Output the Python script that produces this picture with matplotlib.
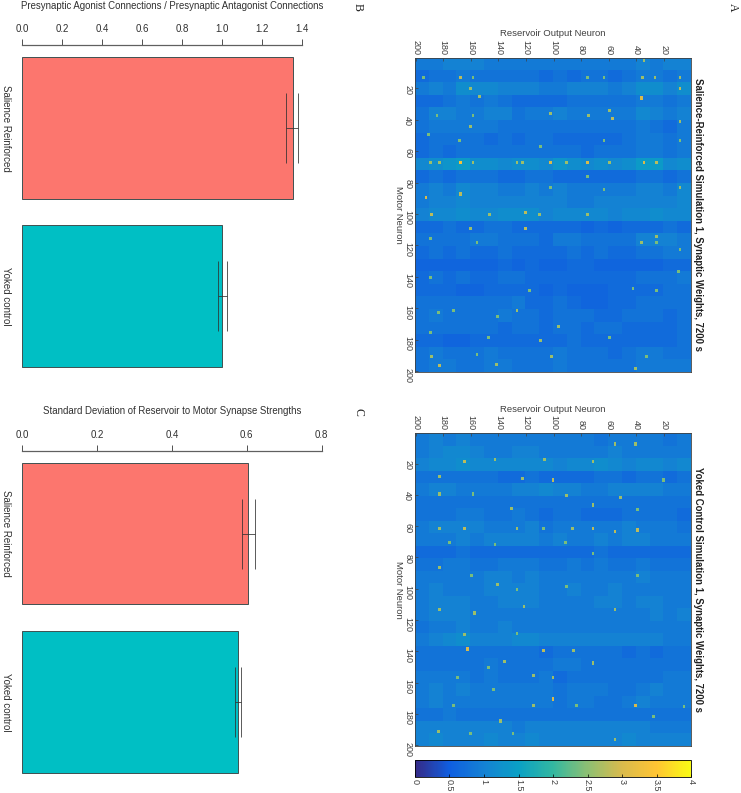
from matplotlib import pyplot as plt
from matplotlib.colors import LinearSegmentedColormap
import numpy as np

plt.rcParams['font.family'] = ['Liberation Sans', 'DejaVu Sans']

# hand: mean weight per block of 8 motor neurons (rows)
# by 10 reservoir neurons (columns, left to right = neuron 200 down to 1)
salience_blocks = [
    [.9,.9,1.0,1.0,1.0,.9,.9,.9,.9,.9,.9,.9,.9,.9,.9,.9,1.0,.9,1.0,1.0],
    [.7,.8,.8,.9,.8,.8,.8,.8,.8,.7,.8,.7,.8,.8,.7,.8,.9,.9,.8,.9],
    [.9,1.0,.9,1.2,1.1,1.1,1.0,1.0,1.0,.9,.9,1.0,1.0,1.0,.9,1.0,1.2,1.2,1.0,1.2],
    [.7,.7,.8,.9,.8,.9,.8,.7,.7,.7,.7,.8,.8,.8,.8,.8,.9,.9,.8,.9],
    [.8,1.0,1.0,.9,.9,1.0,1.0,.8,.9,.9,1.0,.9,.9,.9,.9,.9,1.1,1.0,.9,1.0],
    [.8,.9,.9,.9,.9,.9,.8,.8,.8,.8,.8,.8,.8,.8,.8,.8,.9,.8,.7,.9],
    [.7,.8,.8,.8,.8,.7,.8,.7,.8,.8,.7,.7,.7,.7,.7,.8,.9,.9,.8,.9],
    [.7,.8,.7,.8,.8,.8,.8,.8,.8,.8,.8,.8,.7,.8,.8,.8,.9,.9,.8,.9],
    [1.1,1.2,1.3,1.4,1.2,1.2,1.1,1.2,1.2,1.1,1.3,1.2,1.1,1.2,1.1,1.2,1.4,1.4,1.1,1.2],
    [.7,.8,.7,.8,.8,.8,.7,.7,.8,.8,.7,.7,.7,.7,.7,.7,.8,.8,.7,.8],
    [.9,1.0,.9,1.1,1.0,1.0,.9,.9,1.0,.9,1.0,.9,.9,.9,.9,.9,1.0,1.0,.9,1.1],
    [.9,1.0,1.0,1.1,1.0,1.0,1.0,1.0,1.0,1.0,1.0,.9,.9,1.0,1.0,1.0,1.0,1.0,1.0,1.1],
    [1.0,1.1,1.1,1.2,1.1,1.1,1.2,1.2,1.2,1.0,1.1,1.1,1.1,1.1,1.0,1.1,1.1,1.2,1.1,1.1],
    [.7,.7,.8,.7,.7,.8,.8,.7,.7,.7,.7,.7,.6,.7,.6,.7,.7,.7,.8,.7],
    [.8,.8,.8,.8,.9,.9,.8,.8,.8,.7,.9,.9,.8,.8,.8,.8,1.0,1.0,1.0,.9],
    [.7,.8,.7,.8,.7,.7,.8,.7,.7,.7,.7,.8,.7,.8,.7,.7,.8,.8,.9,.9],
    [.6,.6,.6,.6,.6,.6,.7,.6,.7,.6,.6,.7,.7,.6,.6,.6,.6,.6,.7,.7],
    [.7,.8,.7,.8,.7,.7,.8,.8,.7,.7,.7,.7,.7,.7,.7,.7,.8,.8,.8,.9],
    [.7,.7,.7,.6,.6,.7,.7,.7,.7,.6,.7,.6,.6,.6,.7,.7,.7,.7,.8,.8],
    [.8,.8,.8,.8,.8,.8,.8,.9,.7,.7,.8,.7,.6,.6,.7,.7,.8,.8,.8,.8],
    [.8,.9,.8,.8,.8,.8,.9,.8,.8,.7,.8,.8,.8,.7,.7,.8,.8,.8,.7,.8],
    [.8,.8,.8,.8,.8,.8,.7,.8,.8,.7,.8,.8,.7,.8,.8,.7,.7,.7,.7,.8],
    [.7,.7,.6,.6,.7,.7,.7,.7,.7,.7,.7,.8,.7,.7,.7,.7,.7,.7,.7,.8],
    [.8,.9,.8,.8,.8,.9,.8,.8,.8,.8,.9,.8,.8,.8,.7,.8,.9,.9,.8,.8],
    [.8,.9,.9,.8,.8,.9,.9,.8,.8,.8,.9,.8,.8,.8,.8,.8,.9,.9,.9,.9],
]
yoked_blocks = [
    [.9,1.0,.9,1.0,.9,.9,.9,.9,.9,.9,.9,.9,.9,.8,.9,.9,.9,.9,.8,.9],
    [.9,1.0,1.1,1.1,1.0,.9,.9,1.0,1.0,.9,.9,.9,.9,.9,1.0,.9,.9,.9,.9,.9],
    [1.0,1.1,1.1,1.2,1.1,1.1,1.1,1.1,1.1,1.1,1.0,1.1,1.1,1.2,1.1,1.0,1.1,1.1,1.0,1.1],
    [.8,.8,.8,.8,.8,.8,.7,.7,.8,.7,.7,.7,.7,.8,.8,.7,.8,.8,.7,.8],
    [.9,1.0,1.0,.9,.9,.9,.9,1.0,1.0,1.1,1.0,1.0,.9,.9,1.0,1.0,1.0,1.0,.9,.9],
    [.8,.8,.8,.8,.8,.8,.8,.8,.8,.8,.8,.8,.8,.8,.8,.8,.8,.8,.8,.8],
    [.8,.8,.8,.9,.9,.8,.8,.9,.8,.7,.8,.8,.7,.7,.7,.8,.8,.8,.8,.7],
    [.9,1.0,1.0,1.0,1.0,.9,.9,.9,1.0,.8,.9,.9,.9,.9,.9,1.0,.9,.9,.9,.8],
    [.9,.9,.9,1.0,.9,1.0,1.0,1.0,1.0,.9,1.0,.9,.9,1.0,.9,1.0,1.0,.9,.9,.9],
    [.7,.7,.7,.8,.7,.7,.7,.7,.7,.7,.7,.7,.7,.8,.7,.7,.7,.7,.7,.7],
    [.8,.8,.9,.9,.8,.8,.9,.9,.9,.8,.8,.9,.8,.9,.8,.8,.9,.8,.8,.8],
    [.9,.9,.9,.9,.9,1.0,1.0,.9,1.0,.9,.9,.9,.9,.9,.9,.9,1.0,.9,.9,.9],
    [.9,1.0,.9,.9,.9,1.0,1.0,1.0,1.0,.9,.9,1.0,.9,.9,1.0,.9,.9,.9,.9,.9],
    [.9,1.0,1.0,1.0,.9,.9,1.0,1.0,1.0,.9,.9,.9,.9,1.0,1.0,.9,1.0,1.0,.9,.9],
    [.9,1.0,1.0,1.0,.9,.9,.9,.9,.9,.9,.9,.9,.9,.9,.9,.9,.9,1.0,.9,1.0],
    [.8,.9,.9,1.0,.9,.9,1.0,.9,.9,.9,.9,.9,.9,.9,.9,.9,.9,.9,.9,.9],
    [.9,1.0,1.1,1.2,1.0,1.0,1.0,1.1,1.1,1.0,1.0,1.0,1.0,1.0,1.0,1.0,1.0,1.0,.9,.9],
    [.8,.8,.8,.8,.8,.8,.8,.8,.8,.7,.8,.8,.8,.8,.8,.7,.8,.7,.8,.8],
    [.8,.8,.8,.8,.8,.9,.8,.8,.8,.8,.9,.9,.8,.8,.8,.8,.8,.8,.8,.8],
    [.9,.9,.9,.9,.8,.9,.8,.8,.8,.9,.7,.8,.8,.8,.8,.8,.8,.8,.9,.9],
    [.9,1.0,.9,1.0,.9,.9,.9,.9,.9,.9,.8,.9,.9,.9,.8,.8,.9,1.0,.9,.9],
    [.9,1.0,.9,.9,.9,.9,.9,.9,.9,.9,.8,.9,.9,.8,.8,.9,1.0,.9,.9,.9],
    [.8,.8,.9,.8,.8,.8,.8,.8,.8,.8,.8,.8,.8,.8,.8,.8,.8,.8,.8,.8],
    [1.0,1.0,1.0,1.0,1.0,1.0,1.0,.9,1.0,1.0,1.0,1.0,1.0,1.0,1.0,1.0,1.0,.9,.9,.9],
    [1.0,1.1,1.0,1.0,1.0,1.1,1.0,1.0,1.1,1.0,1.0,1.0,1.0,1.0,1.0,1.1,1.0,1.0,1.0,1.0],
]
# bright synapses that can be picked out: (motor, reservoir, weight)
salience_spots = [
    (67,167,3.4),(26,36,3.0),(67,34,3.0),(67,25,2.8),(67,75,3.0),(67,102,3.0),(25,153,2.6),
    (20,8,2.8),(13,167,2.8),(89,192,3.0),(41,8,2.6),(39,57,2.8),(37,74,2.6),(20,160,2.6),
    (2,34,2.6),(13,35,2.6),(36,102,2.6),(44,160,2.6),(67,189,2.6),(67,182,2.6),(67,158,2.6),
    (67,126,2.6),(67,122,2.6),(67,90,2.6),(67,59,2.6),(13,194,2.4),(13,158,2.4),(13,63,2.4),
    (13,26,2.6),(13,8,2.6),(13,75,2.4),(37,184,2.4),(37,158,2.4),(34,59,2.6),(53,168,2.4),
    (57,109,2.4),(53,8,2.4),(53,63,2.4),(49,190,2.4),(76,75,2.4),(87,167,2.8),(83,8,2.6),
    (83,102,2.4),(84,63,2.4),(100,188,2.8),(100,146,2.6),(99,120,2.8),(100,110,2.6),
    (100,75,2.6),(109,160,2.6),(109,120,2.8),(115,189,2.4),(118,155,2.4),(114,25,2.6),
    (118,25,2.4),(118,36,2.6),(122,8,2.4),(140,189,2.4),(136,9,2.4),(148,25,2.4),(147,42,2.4),
    (148,117,2.4),(161,172,2.4),(162,183,2.4),(161,126,2.6),(165,140,2.4),(171,96,2.6),
    (175,189,2.4),(178,147,2.4),(180,109,2.6),(178,59,2.4),(190,101,2.6),(190,188,2.6),
    (189,155,2.4),(195,141,2.6),(196,182,2.8),(190,32,2.4),(198,40,2.6),
]
yoked_spots = [
    (18,164,2.8),(17,142,2.6),(17,106,2.6),(18,71,2.6),(28,182,2.6),(30,100,2.8),(29,122,2.6),
    (30,20,2.4),(39,182,2.6),(40,90,2.6),(41,51,2.6),(39,158,2.4),(46,71,2.6),(48,130,2.6),
    (49,39,2.4),(61,164,2.8),(61,182,2.6),(61,126,2.6),(61,86,2.6),(61,71,2.8),(63,55,2.8),
    (62,39,2.8),(61,107,2.4),(70,175,2.4),(70,91,2.4),(71,142,2.4),(77,71,2.4),(86,182,2.6),
    (91,159,2.4),(97,140,2.6),(100,126,2.4),(98,90,2.4),(91,39,2.4),(113,182,2.6),(115,157,2.6),
    (111,121,2.6),(113,55,2.6),(129,164,2.6),(128,126,2.4),(138,162,3.0),(139,107,2.8),
    (139,85,2.6),(146,135,2.6),(150,147,2.4),(147,71,2.6),(155,114,2.6),(156,100,2.6),
    (156,169,2.4),(164,143,2.4),(174,114,2.6),(170,100,3.0),(174,40,3.0),(174,172,2.4),
    (184,138,2.6),(191,183,2.6),(192,160,2.4),(192,129,2.4),(196,55,2.6),(181,27,2.4),
    (175,5,2.4),(174,83,2.4),(7,40,2.6),(7,55,2.6),
]

heat_titles = ['Salience-Reinforced Simulation 1, Synaptic Weights, 7200 s',
               'Yoked Control Simulation 1, Synaptic Weights, 7200 s']
groups = ['Salience Reinforced', 'Yoked control']
ratio_means = [1.355, 1.002]
ratio_low = [1.323, 0.982]
ratio_high = [1.383, 1.024]
spread_means = [0.604, 0.577]
spread_low = [0.588, 0.569]
spread_high = [0.621, 0.584]
ratio_ticks = [0.0, 0.2, 0.4, 0.6, 0.8, 1.0, 1.2, 1.4]
spread_ticks = [0.0, 0.2, 0.4, 0.6, 0.8]
neuron_ticks = list(range(20, 201, 20))
cbar_ticks = [0, 0.5, 1, 1.5, 2, 2.5, 3, 3.5, 4]
cbar_labels = ['0', '0.5', '1', '1.5', '2', '2.5', '3', '3.5', '4']

parula = LinearSegmentedColormap.from_list('parula', [
    (0.208, 0.166, 0.529), (0.06, 0.37, 0.88), (0.08, 0.51, 0.83), (0.04, 0.63, 0.77),
    (0.2, 0.72, 0.63), (0.55, 0.75, 0.45), (0.85, 0.73, 0.3), (1.0, 0.77, 0.2), (0.976, 0.984, 0.08)])

W, H = 741, 793
fig = plt.figure(figsize=(W / 100, H / 100), dpi=100)


def px_axes(x0, y0, x1, y1):
    # pixel box, y measured from the top of the picture
    return fig.add_axes([x0 / W, 1 - y1 / H, (x1 - x0) / W, (y1 - y0) / H])


def fill_weights(blocks, spots):
    w = np.kron(np.array(blocks), np.ones((8, 10)))
    for motor, res, val in spots:
        w[motor - 1:motor + 1, 199 - res:201 - res] = val
    return w


def heatmap(box, blocks, spots, title):
    ax = px_axes(*box)
    im = ax.imshow(fill_weights(blocks, spots), cmap=parula, vmin=0, vmax=4, aspect='auto',
                   interpolation='nearest', extent=(200.5, 0.5, 200.5, 0.5))
    ax.xaxis.tick_top()
    ax.set_xticks(neuron_ticks)
    ax.set_yticks(neuron_ticks)
    ax.tick_params(direction='in', length=2, width=0.5, labelsize=6.5, colors='#404040', pad=2)
    ax.tick_params(axis='x', labelrotation=270)
    ax.tick_params(axis='y', labelrotation=270)
    for s in ax.spines.values():
        s.set_linewidth(0.6)
        s.set_color('#404040')
    ax.text(0.5, 1.075, 'Reservoir Output Neuron', transform=ax.transAxes, ha='center', va='center',
            fontsize=6.8, color='#404040')
    ax.text(-0.058, 0.5, 'Motor Neuron', transform=ax.transAxes, ha='center', va='center',
            rotation=270, fontsize=6.8, color='#404040')
    ax.text(1.025, 0.5, title, transform=ax.transAxes, ha='center', va='center', rotation=270,
            fontsize=6.95, fontweight='bold', color='#202020')
    return im


def bar_panel(box, ticks, means, low, high, title, title_y):
    ax = px_axes(*box)
    y = [0, 1]
    ax.barh(y, means, height=0.84, color=['#FC766E', '#00BFC4'], edgecolor='#405050', linewidth=0.7)
    ax.errorbar(means, y, xerr=[np.array(means) - low, np.array(high) - means], fmt='none',
                ecolor='#303030', elinewidth=0.7, capsize=25, capthick=0.7, alpha=0.8)
    ax.set_xlim(ticks[0], ticks[-1])
    ax.set_ylim(1.5, -0.494)
    ax.xaxis.tick_top()
    ax.set_xticks(ticks)
    ax.set_xticklabels([f'{t:.1f}' for t in ticks])
    ax.set_yticks(y)
    ax.set_yticklabels(groups, rotation=270, va='center', ha='center')
    ax.tick_params(axis='x', length=4, width=0.7, labelsize=7, color='#505050', labelcolor='#303030', pad=4)
    ax.tick_params(axis='y', length=0, labelsize=7, labelcolor='#303030', pad=12)
    for s in ['left', 'right', 'bottom']:
        ax.spines[s].set_visible(False)
    ax.spines['top'].set_color('#606060')
    ax.spines['top'].set_linewidth(0.9)
    fig.text(172 / W, 1 - title_y / H, title, ha='center', va='center', fontsize=6.95, color='#303030')


heatmap((415, 57.5, 691, 372), salience_blocks, salience_spots, heat_titles[0])
im = heatmap((415, 433, 691, 746), yoked_blocks, yoked_spots, heat_titles[1])

cax = px_axes(415, 760, 691, 776.5)
cb = fig.colorbar(im, cax=cax, orientation='horizontal')
cb.set_ticks(cbar_ticks)
cb.set_ticklabels(cbar_labels)
cax.tick_params(direction='in', length=2, width=0.5, labelsize=6.5, labelrotation=270, labelcolor='#404040', pad=2)
cb.outline.set_linewidth(0.6)

bar_panel((22.3, 45, 301.7, 380), ratio_ticks, ratio_means, ratio_low, ratio_high,
          'Presynaptic Agonist Connections / Presynaptic Antagonist Connections', 5.7)
bar_panel((22.3, 450.7, 321.7, 786), spread_ticks, spread_means, spread_low, spread_high,
          'Standard Deviation of Reservoir to Motor Synapse Strengths', 410.7)

for letter, x, y in [('A', 733, 7), ('B', 358, 7), ('C', 358, 412)]:
    fig.text(x / W, 1 - y / H, letter, rotation=270, ha='center', va='center', fontsize=8.5,
             family='Liberation Serif', color='#202020')

fig.savefig('out.png', dpi=100)
